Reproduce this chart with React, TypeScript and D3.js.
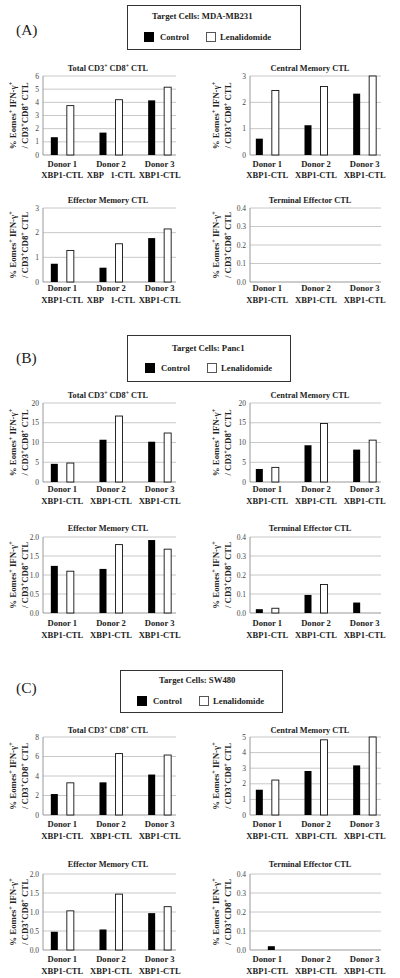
import React from "react";
import * as d3 from "d3";

// ---------- DATA ----------
const donors = ["Donor 1", "Donor 2", "Donor 3"];
const series = ["Control", "Lenalidomide"];
const sectionLabels = ["(A)", "(B)", "(C)"];
const targetCells = ["Target Cells: MDA-MB231", "Target Cells: Panc1", "Target Cells: SW480"];
const panelTitles = ["Total", "Central Memory CTL", "Effector Memory CTL", "Terminal Effector CTL"];

// x-axis second lines per section/panel (A has a gap in Donor 2 for Total & Effector)
const xbpA1 = ["XBP1-CTL", "XBP\u00a0\u00a0\u00a01-CTL", "XBP1-CTL"];
const xbpStd = ["XBP1-CTL", "XBP1-CTL", "XBP1-CTL"];

// y-axis maxima and tick steps: [panel1, panel2, panel3, panel4]
const yMaxA = [6, 3, 3, 0.4];
const yStepA = [1, 1, 1, 0.1];
const yMaxB = [20, 20, 2, 0.4];
const yStepB = [5, 5, 0.5, 0.1];
const yMaxC = [8, 5, 2, 0.4];
const yStepC = [2, 1, 0.5, 0.1];

// values [control, lenalidomide] per panel
const A_total_ctrl = [1.35, 1.7, 4.15];
const A_total_len = [3.75, 4.2, 5.15];
const A_cm_ctrl = [0.62, 1.13, 2.33];
const A_cm_len = [2.45, 2.6, 3.0];
const A_em_ctrl = [0.74, 0.58, 1.78];
const A_em_len = [1.28, 1.55, 2.15];
const A_te_ctrl = [0, 0, 0];
const A_te_len = [0, 0, 0];

const B_total_ctrl = [4.6, 10.7, 10.2];
const B_total_len = [4.8, 16.7, 12.4];
const B_cm_ctrl = [3.3, 9.3, 8.2];
const B_cm_len = [3.7, 14.8, 10.6];
const B_em_ctrl = [1.24, 1.16, 1.92];
const B_em_len = [1.1, 1.8, 1.68];
const B_te_ctrl = [0.02, 0.095, 0.055];
const B_te_len = [0.025, 0.15, 0];

const C_total_ctrl = [2.15, 3.35, 4.15];
const C_total_len = [3.3, 6.3, 6.15];
const C_cm_ctrl = [1.62, 2.82, 3.18];
const C_cm_len = [2.24, 4.82, 5.0];
const C_em_ctrl = [0.48, 0.54, 0.97];
const C_em_len = [1.03, 1.47, 1.14];
const C_te_ctrl = [0.02, 0, 0];
const C_te_len = [0, 0, 0];

// ---------- LAYOUT ----------
const FONT = "'Liberation Serif', 'Times New Roman', serif";

type Sec = {
  label: string;
  target: string;
  labelY: number;
  box: { x: number; y: number; w: number; h: number; titleX: number; titleY: number; itemY: number; ctrlX: number; lenX: number };
  rows: { titleY: number; top: number; zero: number; lab1: number; lab2: number }[];
  yMax: number[];
  yStep: number[];
  values: number[][][];
  xbp: string[][];
  barShift: number[];
};

const sections: Sec[] = [
  {
    label: sectionLabels[0],
    target: targetCells[0],
    labelY: 30,
    box: { x: 127, y: 5, w: 173, h: 44, titleX: 152, titleY: 16, itemY: 37, ctrlX: 144, lenX: 206 },
    rows: [
      { titleY: 68, top: 76, zero: 155, lab1: 164, lab2: 175 },
      { titleY: 200, top: 208, zero: 282, lab1: 288, lab2: 300 },
    ],
    yMax: yMaxA,
    yStep: yStepA,
    values: [
      [A_total_ctrl, A_total_len],
      [A_cm_ctrl, A_cm_len],
      [A_em_ctrl, A_em_len],
      [A_te_ctrl, A_te_len],
    ],
    xbp: [xbpA1, xbpStd, xbpA1, xbpStd],
    barShift: [0, 0, 0, 0],
  },
  {
    label: sectionLabels[1],
    target: targetCells[1],
    labelY: 358,
    box: { x: 127, y: 335, w: 163, h: 46, titleX: 172, titleY: 348, itemY: 368, ctrlX: 145, lenX: 207 },
    rows: [
      { titleY: 395, top: 403, zero: 482, lab1: 489, lab2: 501 },
      { titleY: 528, top: 537, zero: 613, lab1: 623, lab2: 635 },
    ],
    yMax: yMaxB,
    yStep: yStepB,
    values: [
      [B_total_ctrl, B_total_len],
      [B_cm_ctrl, B_cm_len],
      [B_em_ctrl, B_em_len],
      [B_te_ctrl, B_te_len],
    ],
    xbp: [xbpStd, xbpStd, xbpStd, xbpStd],
    barShift: [0, 0, 0, 0],
  },
  {
    label: sectionLabels[2],
    target: targetCells[2],
    labelY: 688,
    box: { x: 120, y: 670, w: 162, h: 42, titleX: 159, titleY: 680, itemY: 701, ctrlX: 137, lenX: 199 },
    rows: [
      { titleY: 730, top: 737, zero: 815, lab1: 824, lab2: 836 },
      { titleY: 864, top: 874, zero: 950, lab1: 959, lab2: 971 },
    ],
    yMax: yMaxC,
    yStep: yStepC,
    values: [
      [C_total_ctrl, C_total_len],
      [C_cm_ctrl, C_cm_len],
      [C_em_ctrl, C_em_len],
      [C_te_ctrl, C_te_len],
    ],
    xbp: [xbpStd, xbpStd, xbpStd, xbpStd],
    barShift: [0, 0, 0, 12],
  },
];

const cols = [
  { axis: 43, gridEnd: 176, range: [38, 184] as [number, number], yl1: 13, yl2: 25, titleX: 108 },
  { axis: 250, gridEnd: 381, range: [243, 389] as [number, number], yl1: 216, yl2: 228, titleX: 310 },
];

const Sup = ({ children }: { children: string }) => (
  <tspan baselineShift="super" fontSize="70%">{children}</tspan>
);

function PanelTitle({ idx, x, y }: { idx: number; x: number; y: number }) {
  return (
    <text x={x} y={y} dy="0.35em" textAnchor="middle" fontFamily={FONT} fontWeight="bold" fontSize={8.3} fill="#222">
      {idx === 0 ? (
        <>
          {"Total CD3"}
          <Sup>+</Sup>
          {" CD8"}
          <Sup>+</Sup>
          {" CTL"}
        </>
      ) : (
        panelTitles[idx]
      )}
    </text>
  );
}

function YLabel({ x1, x2, cy }: { x1: number; x2: number; cy: number }) {
  return (
    <g fontFamily={FONT} fontWeight="bold" fontSize={8.8} fill="#222">
      <text transform={`translate(${x1},${cy}) rotate(-90)`} textAnchor="middle" dy="0.35em">
        {"% Eomes"}
        <Sup>+</Sup>
        {" IFN-γ"}
        <Sup>+</Sup>
      </text>
      <text transform={`translate(${x2},${cy}) rotate(-90)`} textAnchor="middle" dy="0.35em">
        {"/ CD3"}
        <Sup>+</Sup>
        {"CD8"}
        <Sup>+</Sup>
        {" CTL"}
      </text>
    </g>
  );
}

function Panel({ sec, pi }: { sec: Sec; pi: number }) {
  const row = sec.rows[Math.floor(pi / 2)];
  const col = cols[pi % 2];
  const yMax = sec.yMax[pi];
  const step = sec.yStep[pi];
  const y = d3.scaleLinear().domain([0, yMax]).range([row.zero, row.top]);
  const x0 = d3.scaleBand().domain(donors).range(col.range);
  const x1 = d3.scaleBand().domain(series).range([-16, 16]).paddingInner(0.5625).paddingOuter(0.28125);
  const ticks = d3.range(0, yMax + step / 2, step);
  const fmt = step < 1 ? d3.format(".1f") : d3.format("d");
  const vals = sec.values[pi];
  const shift = sec.barShift[pi];
  return (
    <g>
      <PanelTitle idx={pi} x={col.titleX} y={row.titleY} />
      <YLabel x1={col.yl1} x2={col.yl2} cy={(row.top + row.zero) / 2} />
      {ticks.map((t) => (
        <g key={t}>
          {t > 0 && <line x1={col.axis} x2={col.gridEnd} y1={y(t)} y2={y(t)} stroke="#c8c8c8" strokeWidth={1} />}
          <text x={col.axis - 4} y={y(t)} dy="0.35em" textAnchor="end" fontFamily={FONT} fontSize={7.5} fill="#444">
            {fmt(t)}
          </text>
        </g>
      ))}
      <line x1={col.axis} x2={col.axis} y1={row.top} y2={row.zero} stroke="#999" strokeWidth={1} />
      <line x1={col.axis} x2={col.gridEnd} y1={row.zero} y2={row.zero} stroke="#999" strokeWidth={1} />
      {donors.map((d, di) => {
        const cx = (x0(d) ?? 0) + x0.bandwidth() / 2;
        return (
          <g key={d}>
            {series.map((s, si) => {
              const v = vals[si][di];
              if (v <= 0) return null;
              const bx = cx + (x1(s) ?? 0) + shift;
              return (
                <rect
                  key={s}
                  x={bx}
                  y={y(v)}
                  width={x1.bandwidth()}
                  height={row.zero - y(v)}
                  fill={si === 0 ? "#000" : "#fff"}
                  stroke="#111"
                  strokeWidth={si === 0 ? 0 : 0.9}
                />
              );
            })}
            <text x={cx} y={row.lab1} dy="0.35em" textAnchor="middle" fontFamily={FONT} fontWeight="bold" fontSize={8.6} fill="#222">
              {d}
            </text>
            <text x={cx} y={row.lab2} dy="0.35em" textAnchor="middle" fontFamily={FONT} fontWeight="bold" fontSize={8.6} fill="#222" xmlSpace="preserve">
              {sec.xbp[pi][di]}
            </text>
          </g>
        );
      })}
    </g>
  );
}

function Legend({ sec }: { sec: Sec }) {
  const b = sec.box;
  return (
    <g fontFamily={FONT} fontWeight="bold" fontSize={8.7} fill="#222">
      <rect x={b.x + 0.5} y={b.y + 0.5} width={b.w} height={b.h} fill="#fff" stroke="#333" strokeWidth={1} />
      <text x={b.titleX} y={b.titleY} dy="0.35em">{sec.target}</text>
      <rect x={b.ctrlX} y={b.itemY - 5} width={10} height={10} fill="#000" />
      <text x={b.ctrlX + 16} y={b.itemY} dy="0.35em">{series[0]}</text>
      <rect x={b.lenX + 0.5} y={b.itemY - 4.5} width={9} height={9} fill="#fff" stroke="#555" strokeWidth={1} />
      <text x={b.lenX + 14} y={b.itemY} dy="0.35em">{series[1]}</text>
    </g>
  );
}

export default function App() {
  return (
    <svg width={400} height={978} viewBox="0 0 400 978" style={{ position: "absolute", left: 0, top: 0, background: "#fff" }}>
      <rect width={400} height={978} fill="#fff" />
      {sections.map((sec) => (
        <g key={sec.label}>
          <text x={16} y={sec.labelY} dy="0.35em" fontFamily={FONT} fontSize={15.5} fill="#222">
            {sec.label}
          </text>
          <Legend sec={sec} />
          {[0, 1, 2, 3].map((pi) => (
            <Panel key={pi} sec={sec} pi={pi} />
          ))}
        </g>
      ))}
    </svg>
  );
}
